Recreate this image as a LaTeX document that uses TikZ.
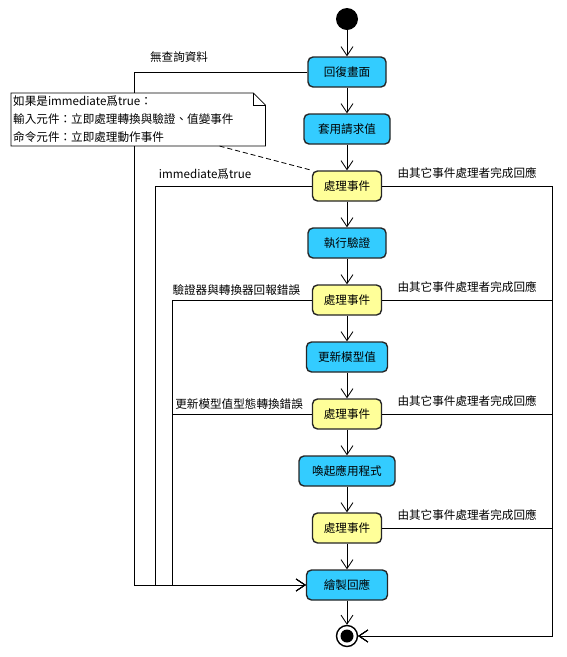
\documentclass[tikz,border=0pt]{standalone}
\usepackage{fontspec}
\setmainfont{Noto Sans CJK TC}
\usepackage{xcolor}
\usetikzlibrary{positioning, arrows.meta, calc}

\definecolor{actblue}{HTML}{33CCFF}
\definecolor{evyellow}{HTML}{FFFF99}

\begin{document}
\begin{tikzpicture}[
			x=1pt, y=-1pt,
			node distance=57pt,
			on grid,
			every node/.style={
				font=\fontsize{11.6}{14}\selectfont
			},
			action/.style={
				draw=black!85,
				rectangle,
				rounded corners=5pt,
				line width=1.4pt,
				minimum height=30pt,
				fill=actblue
			},
			handler/.style={
				action,
				minimum width=69pt,
				fill=evyellow
			},
			initial/.style={
				circle,
				fill=black,
				minimum size=22pt,
				inner sep=0pt
			},
			final/.style={
				circle,
				draw=black,
				line width=1.4pt,
				fill=white,
				minimum size=21pt,
				inner sep=0pt,
				path picture={\fill[black] (path picture bounding box.center) circle (6.5pt);}
			},
			note/.style={
				fill=white,
				align=left,
				text width=250pt,
				inner xsep=2pt,
				inner ysep=3pt,
				minimum height=52pt,
				font=\fontsize{11.6}{18}\selectfont
			},
			flow/.style={
				draw=black,
				line width=0.8pt,
				-{Straight Barb[length=9pt,width=12pt]}
			}
			]
			\useasboundingbox (0,0) rectangle (566,657);
			% States
			\node[initial] (start) at (347,19) {};
			\node[action, minimum width=78pt] (restore) at (347,72) {回復畫面};
			\node[action, minimum width=86pt, below=of restore] (apply) {套用請求值};
			\node[handler, below=of apply] (h1) {處理事件};
			\node[action, minimum width=78pt, below=of h1] (validate) {執行驗證};
			\node[handler, below=of validate] (h2) {處理事件};
			\node[action, minimum width=81pt, below=of h2] (update) {更新模型值};
			\node[handler, below=of update] (h3) {處理事件};
			\node[action, minimum width=96pt, below=of h3] (invoke) {喚起應用程式};
			\node[handler, below=of invoke] (h4) {處理事件};
			\node[action, minimum width=81pt, below=of h4] (render) {繪製回應};
			\node[final, below=51pt of render] (final) {};

			% corners of the side paths
			\coordinate (lA) at (134,585);
			\coordinate (lB) at (155,585);
			\coordinate (lC) at (172,585);
			\coordinate (rgt) at (552,636);

			% main flow
			\draw[flow] (start) -- (restore);
			\draw[flow] (restore) -- (apply);
			\draw[flow] (apply) -- (h1);
			\draw[flow] (h1) -- (validate);
			\draw[flow] (validate) -- (h2);
			\draw[flow] (h2) -- (update);
			\draw[flow] (update) -- (h3);
			\draw[flow] (h3) -- (invoke);
			\draw[flow] (invoke) -- (h4);
			\draw[flow] (h4) -- (render);
			\draw[flow] (render) -- (final);

			% responses completed elsewhere
			\foreach \h in {h1,h2,h3,h4}
				\draw[flow] (\h.east) -- node[above, yshift=4pt] {由其它事件處理者完成回應} (\h.east -| rgt) -- (rgt) -- (final);

			% jumps to rendering
			\draw[flow] (restore.west) -| node[pos=0.37, above, yshift=6pt] {無查詢資料} (lA) -- (render.west);
			\draw[flow] (h1.west) -| node[pos=0.34, above, yshift=3pt] {immediate爲true} (lB) -- (render.west);
			\draw[flow] (h2.west) -| node[pos=0.27, above, yshift=1pt] {驗證器與轉換器回報錯誤} (lC) -- (render.west);
			\draw[flow] (h3.west) -| node[pos=0.26, above, yshift=1pt] {更新模型值型態轉換錯誤} (lC) -- (render.west);

			% note
			\node[note, anchor=north west] (remark) at (11,93) {如果是immediate爲true：\\輸入元件：立即處理轉換與驗證、值變事件\\命令元件：立即處理動作事件};
			\draw[line width=0.8pt] (remark.north west) -- ($(remark.north east)+(-12,0)$) -- ($(remark.north east)+(0,12)$) -- (remark.south east) -- (remark.south west) -- cycle;
			\draw[line width=0.8pt] ($(remark.north east)+(-12,0)$) -- ($(remark.north east)+(-12,12)$) -- ($(remark.north east)+(0,12)$);
			\draw[dashed, line width=0.8pt, dash pattern=on 5pt off 3pt] ($(remark.south west)!0.82!(remark.south east)$) -- (h1.north west);
		\end{tikzpicture}
\end{document}
